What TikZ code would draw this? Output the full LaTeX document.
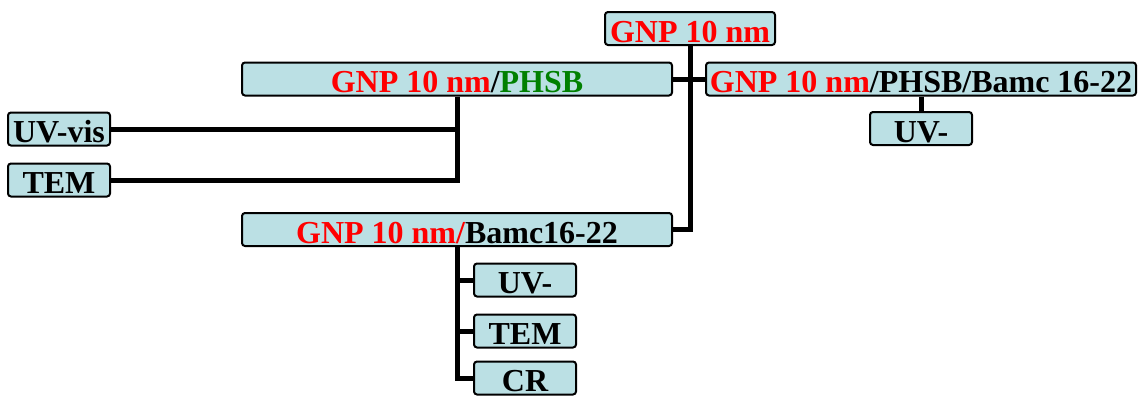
\documentclass[tikz,border=0pt]{standalone}
\usepackage{fontspec}
\setmainfont{Liberation Serif}
\usepackage{tikz}
\definecolor{boxblue}{RGB}{187,224,228}
\definecolor{phsbgreen}{RGB}{0,128,0}
\tikzstyle{sample} = [rectangle, rounded corners=1.5pt,
draw=black, line width=1pt,
fill=boxblue,
minimum height=16.5pt,
inner xsep=0pt, inner ysep=1.5pt,
text height=13.5pt, text depth=0pt,
font=\fontsize{16}{18}\selectfont\bfseries]
\tikzstyle{wide} = [sample, minimum width=215pt]
\tikzstyle{method} = [sample, minimum width=51pt]
\tikzstyle{link} = [line width=2.5pt]

\begin{document}
\begin{tikzpicture}[x=0.5pt, y=-0.5pt]
\useasboundingbox (0,0) rectangle (1138,396);

\node (gnp) [sample, minimum width=85pt] at (690,28.5) {\color{red}GNP 10 nm};

\node (phsb) [wide] at (457,79) {\color{red}GNP 10 nm\color{black}/\color{phsbgreen}PHSB};
\node (both) [wide] at (921,79) {\color{red}GNP 10 nm\color{black}/PHSB/Bamc 16-22};
\node (bamc) [wide] at (457,229.5) {\color{red}GNP 10 nm/\color{black}Bamc16-22};

% characterisation of each sample
\node (uvA) [method] at (59,129) {UV-vis};
\node (temA) [method] at (59,180) {TEM};

\node (uvB) [method] at (921,128.5) {UV-};

\node (uvC) [method] at (525,280) {UV-};
\node (temC) [method] at (525,331) {TEM};
\node (crC) [method] at (525,378) {CR};

\draw [link] (gnp.south) |- (bamc.east);
\draw [link] (phsb.east) -- (both.west);

\draw [link] (phsb.south) |- (temA.east);
\draw [link] (uvA.east) -- (uvA.east -| phsb.south);

\draw [link] (both.south) -- (uvB.north);

\draw [link] (bamc.south) |- (crC.west);
\draw [link] (uvC.west) -- (uvC.west -| bamc.south);
\draw [link] (temC.west) -- (temC.west -| bamc.south);

\end{tikzpicture}
\end{document}
